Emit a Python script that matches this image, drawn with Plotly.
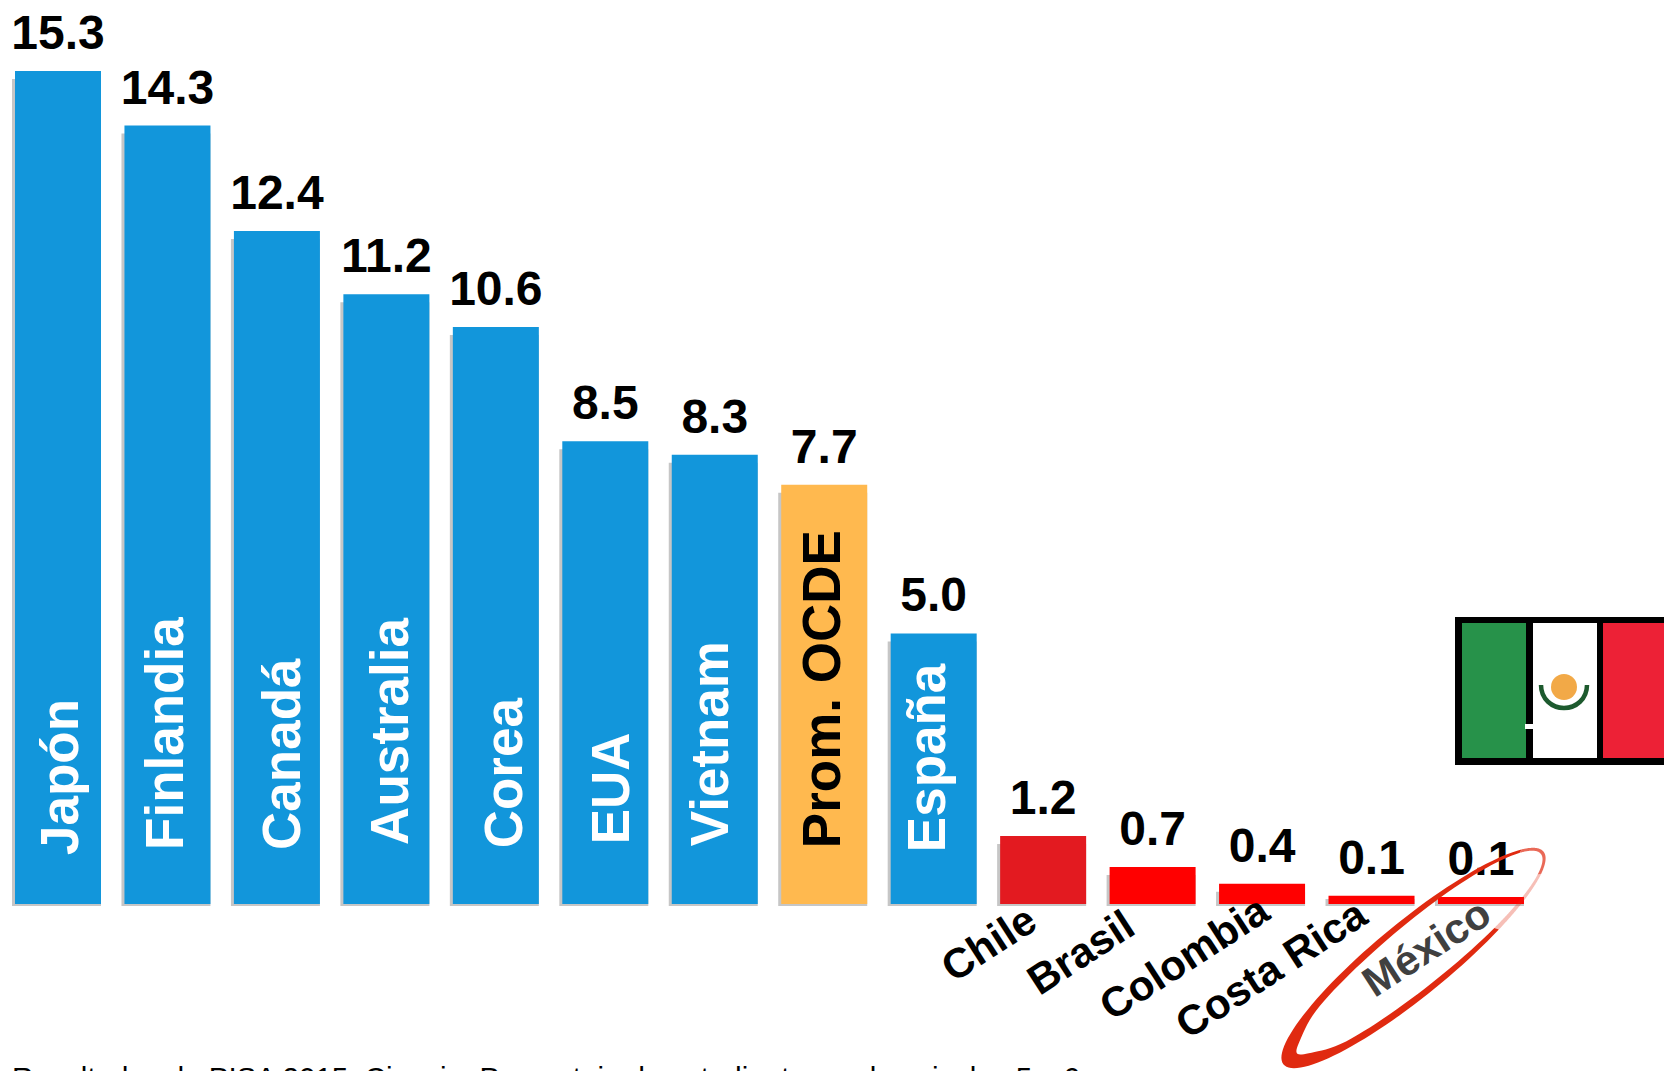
import numpy as np
import plotly.graph_objects as go

# ---- data ----
categories = ["Japón", "Finlandia", "Canadá", "Australia", "Corea", "EUA", "Vietnam",
              "Prom. OCDE", "España", "Chile", "Brasil", "Colombia", "Costa Rica", "México"]
printed_values = ["15.3", "14.3", "12.4", "11.2", "10.6", "8.5", "8.3",
                  "7.7", "5.0", "1.2", "0.7", "0.4", "0.1", "0.1"]
# drawn bar heights (the smallest bars are drawn a bit taller than printed)
bar_heights = [15.3, 14.3, 12.36, 11.2, 10.6, 8.5, 8.25, 7.7, 4.97, 1.25, 0.68, 0.37, 0.15, 0.13]
bar_colors = ["#1296db"] * 7 + ["#ffb94f", "#1296db", "#e31a20", "#ff0000", "#ff0000", "#ff0000", "#ff0000"]
footer = "Resultados de PISA 2015. Ciencia: Porcentaje de estudiantes en los niveles 5 y 6"

W, H = 1664, 1071
FONT = "Liberation Sans"
pitch = 109.46
y_scale = 54.44
x0_px = 58
y0_px = 904
bar_w = 86 / pitch
x_pos = list(range(len(categories)))

fig = go.Figure()
# soft shadow behind each bar
shadow_top = [max(v - 8 / y_scale, v * 0.6) for v in bar_heights]
fig.add_trace(go.Bar(x=x_pos, y=[t + 2 / y_scale for t in shadow_top], base=-2 / y_scale,
                     width=(86 + 3) / pitch, offset=-bar_w / 2 - 3 / pitch,
                     marker=dict(color="#c6c6c6", line=dict(width=0)),
                     hoverinfo="skip", showlegend=False))
fig.add_trace(go.Bar(x=x_pos, y=bar_heights, width=bar_w, offset=-bar_w / 2,
                     marker=dict(color=bar_colors, line=dict(width=0)),
                     hoverinfo="skip", showlegend=False))
# printed values
fig.add_trace(go.Scatter(x=x_pos, y=[v + 10 / y_scale for v in bar_heights], mode="text",
                         text=printed_values, textposition="top center",
                         textfont=dict(family=FONT, size=48, color="#000000", weight="bold"),
                         cliponaxis=False, hoverinfo="skip", showlegend=False))

annotations = []
# labels inside the bars
inner_shift_x = [1, -3, 4, 3, 8, 5, -5, -3, -7]
inner_shift_y = [47, 52, 52, 57, 54, 58, 56, 54, 50]
for i in range(9):
    annotations.append(dict(x=x_pos[i], y=0, xref="x", yref="y", text=categories[i], showarrow=False,
                            textangle=-90, xanchor="center", yanchor="bottom",
                            xshift=inner_shift_x[i], yshift=inner_shift_y[i],
                            font=dict(family=FONT, size=53, weight="bold",
                                      color="#000000" if i == 7 else "#ffffff")))
# slanted labels under the small bars
under_px = {9: (988, 943), 10: (1080, 952), 11: (1184, 957), 12: (1271, 968), 13: (1426, 947)}
for i, (px, py) in under_px.items():
    annotations.append(dict(x=x_pos[i], y=0, xref="x", yref="y", text=categories[i], showarrow=False,
                            textangle=-33, xanchor="center", yanchor="middle",
                            xshift=px - (x0_px + i * pitch), yshift=y0_px - py,
                            font=dict(family=FONT, size=42, weight="bold",
                                      color="#404040" if i == 13 else "#000000")))
annotations.append(dict(x=10 / W, y=1 - 1059 / H, xref="paper", yref="paper", text=footer, showarrow=False,
                        xanchor="left", yanchor="top", font=dict(family=FONT, size=29.5, color="#000000")))


def X(px):
    return px / W


def Y(py):
    return 1 - py / H


def rect(x1, y1, x2, y2, color):
    return dict(type="rect", xref="paper", yref="paper", x0=X(x1), x1=X(x2), y0=Y(y2), y1=Y(y1),
                fillcolor=color, line=dict(width=0), layer="above")


shapes = [
    rect(1455, 617, 1664, 765, "#000000"),
    rect(1462, 623, 1526, 758, "#27924a"),
    rect(1533, 623, 1597, 758, "#ffffff"),
    rect(1603, 623, 1664, 758, "#ed2136"),
    rect(1525, 724, 1533, 729, "#ffffff"),
    dict(type="circle", xref="paper", yref="paper", x0=X(1551), x1=X(1577), y0=Y(700), y1=Y(674),
         fillcolor="#f2a947", line=dict(width=0), layer="above"),
]
# arc under the sun
ax = [1541, 1541, 1552, 1564, 1576, 1587, 1587]
ay = [685, 699, 708, 708, 708, 699, 685]
arc = f"M{X(ax[0])},{Y(ay[0])} C{X(ax[1])},{Y(ay[1])} {X(ax[2])},{Y(ay[2])} {X(ax[3])},{Y(ay[3])} " \
      f"C{X(ax[4])},{Y(ay[4])} {X(ax[5])},{Y(ay[5])} {X(ax[6])},{Y(ay[6])}"
shapes.append(dict(type="path", xref="paper", yref="paper", path=arc, layer="above",
                   line=dict(color="#1d5a2e", width=4.5)))


# hand-drawn red ring around México
def ring(t_start, t_end, color, opacity):
    cx, cy, a, b, ang = 1413.5, 958, 168, 37, np.radians(39.3)
    t = np.radians(np.linspace(t_start, t_end, 90))
    # thickness: heavy at the lower-left tip, fine at the upper-right tip
    th = 3.5 + 5 * (1 - np.cos(t)) / 2 + 9 * np.exp(-((np.cos(t) + 1) * 5) ** 2)
    ux, uy = a * np.cos(t), -b * np.sin(t)
    ix, iy = (a - th) * np.cos(t), -(b - th) * np.sin(t)
    def rot(u, v):
        return cx + u * np.cos(ang) + v * np.sin(ang), cy - u * np.sin(ang) + v * np.cos(ang)
    ox, oy = rot(ux, uy)
    nx, ny = rot(ix, iy)
    xs = np.concatenate([ox, nx[::-1]])
    ys = np.concatenate([oy, ny[::-1]])
    p = "M" + " L".join(f"{X(a_):.5f},{Y(b_):.5f}" for a_, b_ in zip(xs, ys)) + " Z"
    return dict(type="path", xref="paper", yref="paper", path=p, fillcolor=color, opacity=opacity,
                line=dict(width=0), layer="above")


shapes.append(ring(25, 300, "#e02a10", 1.0))
shapes.append(ring(-25, 25, "#e02a10", 0.7))
shapes.append(ring(-60, -25, "#e02a10", 0.3))

fig.update_layout(
    width=W, height=H, margin=dict(l=0, r=0, t=0, b=0),
    paper_bgcolor="#ffffff", plot_bgcolor="#ffffff",
    barmode="overlay", showlegend=False,
    xaxis=dict(visible=False, range=[-x0_px / pitch, (W - x0_px) / pitch], fixedrange=True),
    yaxis=dict(visible=False, range=[-(H - y0_px) / y_scale, y0_px / y_scale], fixedrange=True),
    annotations=annotations, shapes=shapes,
)

fig.write_html("out.html", config={"displayModeBar": False},
               post_script="document.body.style.margin='0';document.body.style.overflow='hidden';")
